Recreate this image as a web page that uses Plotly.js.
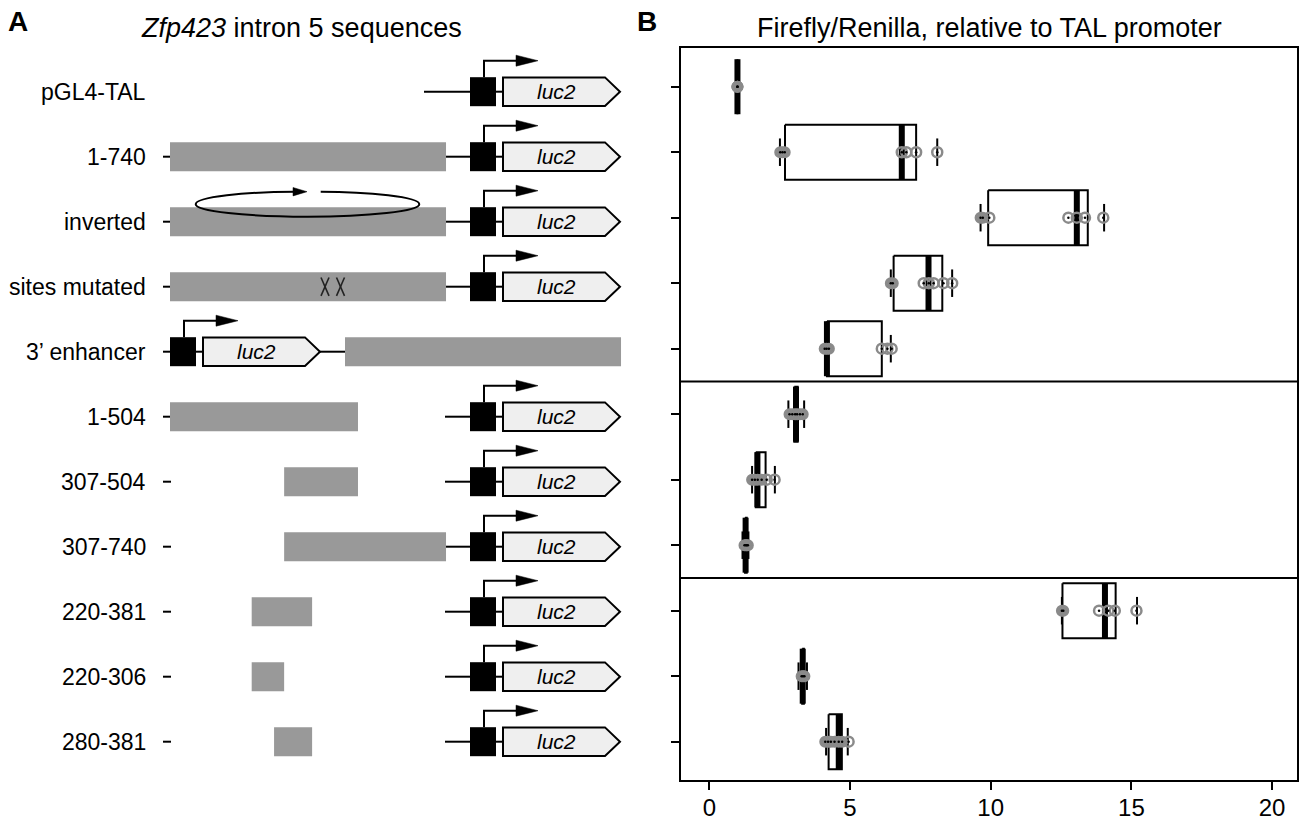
<!DOCTYPE html>
<html><head><meta charset="utf-8">
<script src="https://cdn.plot.ly/plotly-3.0.1.min.js"></script>
<style>body{margin:0;background:#fff}#chart{width:1303px;height:824px}</style>
</head><body><div id="chart"></div>
<script>
// ---------------- DATA ----------------
const constructs = ['pGL4-TAL','1-740','inverted','sites mutated','3\u2019 enhancer','1-504','307-504','307-740','220-381','220-306','280-381'];
const insertStart = [null,1,1,1,1,1,307,307,220,220,280];
const insertEnd   = [null,740,740,740,740,504,504,740,381,306,381];

// box summaries (Firefly/Renilla relative to TAL promoter)
const q1          = [1.00, 2.69, 9.91, 6.55, 4.18, 3.02, 1.65, 1.27, 12.55, 3.30, 4.24];
const median      = [1.00, 6.84, 13.06, 7.79, 4.18, 3.08, 1.71, 1.29, 14.06, 3.32, 4.60];
const q3          = [1.00, 7.35, 13.45, 8.28, 6.13, 3.14, 2.00, 1.33, 14.44, 3.36, 4.71];
const lowWhisker  = [1.00, 2.51, 9.64, 6.45, 4.15, 2.81, 1.52, 1.18, 12.53, 3.17, 4.15];
const highWhisker = [1.00, 8.10, 14.03, 8.63, 6.45, 3.37, 2.33, 1.39, 15.20, 3.47, 4.92];

// individual measurements
const pts_pGL4TAL     = [1.00, 1.00, 1.00];
const pts_1_740       = [2.52, 2.60, 2.68, 6.84, 7.00, 7.35, 8.10];
const pts_inverted    = [9.64, 9.72, 9.95, 12.76, 13.06, 13.35, 14.00];
const pts_sitesMut    = [6.45, 6.52, 7.62, 7.80, 7.97, 8.32, 8.63];
const pts_3enhancer   = [4.10, 4.17, 4.25, 6.13, 6.33, 6.48];
const pts_1_504       = [2.85, 2.95, 3.05, 3.12, 3.22, 3.32];
const pts_307_504     = [1.52, 1.62, 1.72, 1.86, 2.04, 2.32];
const pts_307_740     = [1.25, 1.30, 1.33, 1.37];
const pts_220_381     = [12.53, 12.58, 13.85, 14.18, 14.41, 15.18];
const pts_220_306     = [3.28, 3.33, 3.38];
const pts_280_381     = [4.12, 4.22, 4.32, 4.45, 4.60, 4.72, 4.95];
const pointsByRow = [pts_pGL4TAL, pts_1_740, pts_inverted, pts_sitesMut, pts_3enhancer, pts_1_504,
                     pts_307_504, pts_307_740, pts_220_381, pts_220_306, pts_280_381];
const xTicks = [0, 5, 10, 15, 20];

// ---------------- LAYOUT CONSTANTS ----------------
const W = 1303, H = 824;
const PLOT_TOP = 48, PLOT_BOTTOM = 780;
const FONT = 'Liberation Sans, Arial, Helvetica, sans-serif';
const GREY = '#8a8a8a';
const yDomain = [(H - PLOT_BOTTOM) / H, (H - PLOT_TOP) / H];
const yRange = [10.585, -0.591];
const BOX_H = 0.42, STAPLE_H = 0.21;

// diagram scale (pixel-like units)
const ORIGIN_PX = 170, PX_PER_BP = 0.373;
const DIAG_ROW0 = 91.7, DIAG_STEP = 65.0;
const y2Range = [10 + (PLOT_BOTTOM - (DIAG_ROW0 + 10 * DIAG_STEP)) / DIAG_STEP, -(DIAG_ROW0 - PLOT_TOP) / DIAG_STEP];
function X(px) { return (px - ORIGIN_PX) / PX_PER_BP; }
function Y(row, off) { return row + off / DIAG_STEP; }

// ---------------- TRACES (right panel) ----------------
const boxX = [], boxY = [], medX = [], medY = [], capX = [], capY = [];
const fX = [], fY = [], oX = [], oY = [], dX = [], dY = [];
constructs.forEach((c, i) => {
  boxX.push(q1[i], q3[i], q3[i], q1[i], q1[i], null);
  boxY.push(i - BOX_H, i - BOX_H, i + BOX_H, i + BOX_H, i - BOX_H, null);
  medX.push(median[i], median[i], null);
  medY.push(i - BOX_H, i + BOX_H, null);
  capX.push(lowWhisker[i], lowWhisker[i], null, highWhisker[i], highWhisker[i], null);
  capY.push(i - STAPLE_H, i + STAPLE_H, null, i - STAPLE_H, i + STAPLE_H, null);
  const p = pointsByRow[i];
  p.forEach((v, k) => {
    const crowded = p.some((w, j) => j !== k && Math.abs(w - v) < 0.15);
    if (crowded) { fX.push(v); fY.push(i); } else { oX.push(v); oY.push(i); }
    dX.push(v); dY.push(i);
  });
});
const traces = [
  {x: boxX, y: boxY, mode: 'lines', line: {color: '#000', width: 2}, hoverinfo: 'skip', xaxis: 'x', yaxis: 'y'},
  {x: capX, y: capY, mode: 'lines', line: {color: '#000', width: 2}, hoverinfo: 'skip', xaxis: 'x', yaxis: 'y'},
  {x: medX, y: medY, mode: 'lines', line: {color: '#000', width: 6}, hoverinfo: 'skip', xaxis: 'x', yaxis: 'y'},
  {x: fX, y: fY, mode: 'markers', marker: {symbol: 'circle', size: 10, color: GREY, line: {color: GREY, width: 2}}, hoverinfo: 'x', xaxis: 'x', yaxis: 'y'},
  {x: oX, y: oY, mode: 'markers', marker: {symbol: 'circle-open', size: 10, color: GREY, line: {color: GREY, width: 2.5}}, hoverinfo: 'x', xaxis: 'x', yaxis: 'y'},
  {x: dX, y: dY, mode: 'markers', marker: {symbol: 'circle', size: 2.5, color: '#000'}, hoverinfo: 'skip', xaxis: 'x', yaxis: 'y'}
];

// ---------------- SHAPES / ANNOTATIONS ----------------
const shapes = [], ann = [];
// group separators
[4.5, 7.5].forEach(yy => shapes.push({type: 'line', xref: 'x domain', yref: 'y', x0: 0, x1: 1, y0: yy, y1: yy, line: {color: '#000', width: 2}}));

function hline(row, px0, px1) {
  shapes.push({type: 'line', xref: 'x2', yref: 'y2', x0: X(px0), x1: X(px1), y0: Y(row, 0), y1: Y(row, 0), line: {color: '#000', width: 2}});
}
function poly(row, pts, close, fill, lw, col) {
  const d = pts.map((p, k) => (k ? 'L' : 'M') + X(p[0]).toFixed(3) + ',' + Y(row, p[1]).toFixed(4)).join(' ') + (close ? ' Z' : '');
  shapes.push({type: 'path', xref: 'x2', yref: 'y2', path: d, fillcolor: fill || 'rgba(0,0,0,0)', line: {color: col || '#000', width: lw}});
}
function cassette(row, b) {
  hline(row, b + 26, b + 33);
  poly(row, [[b + 14, -14.5], [b + 14, -31], [b + 47, -31]], false, null, 2);
  poly(row, [[b + 46, -36.5], [b + 68, -31], [b + 46, -25.5]], true, '#000', 0.5);
  shapes.push({type: 'rect', xref: 'x2', yref: 'y2', x0: X(b), x1: X(b + 26), y0: Y(row, -14.5), y1: Y(row, 14.5), fillcolor: '#000', line: {width: 0}});
  poly(row, [[b + 33, -14.3], [b + 135, -14.3], [b + 150, 0], [b + 135, 14.3], [b + 33, 14.3]], true, '#efefef', 2);
  ann.push({xref: 'x2', yref: 'y2', x: X(b + 86), y: Y(row, 0), text: '<i>luc2</i>', showarrow: false,
            font: {size: 21, family: FONT, color: '#000'}, xanchor: 'center', yanchor: 'middle'});
}
function insertBar(row, s, e, shiftPx) {
  const sh = X(shiftPx) - X(ORIGIN_PX);
  shapes.push({type: 'rect', xref: 'x2', yref: 'y2', x0: s - 1 + sh, x1: e + sh, y0: Y(row, -14.5), y1: Y(row, 14.5), fillcolor: '#999999', line: {width: 0}});
}

const STD_BOX = 470;
constructs.forEach((c, i) => {
  ann.push({xref: 'x2', yref: 'y2', x: X(148), y: Y(i, 0), text: c, showarrow: false,
            font: {size: 23, family: FONT, color: '#000'}, xanchor: 'right', yanchor: 'middle'});
  if (c === 'pGL4-TAL') {
    hline(i, 424, STD_BOX);
    cassette(i, STD_BOX);
  } else if (c.indexOf('enhancer') >= 0) {
    hline(i, 163, 170);
    cassette(i, 170);
    hline(i, 170 + 150, 170 + 175);
    insertBar(i, insertStart[i], insertEnd[i], 170 + 175);
  } else {
    hline(i, 163, 171);
    hline(i, 445, STD_BOX);
    insertBar(i, insertStart[i], insertEnd[i], ORIGIN_PX);
    cassette(i, STD_BOX);
  }
  if (c === 'inverted') {
    // loop arrow over the insert
    const cx = 307.5, cy = -17.5, rx = 111.8, ry = 12.5, k = 0.5523;
    const P = (px, py) => X(px).toFixed(3) + ',' + Y(i, py).toFixed(4);
    const top = cy - ry;
    const d = 'M' + P(320.7, top) +
      ' C' + P(cx + k * rx, top) + ' ' + P(cx + rx, cy - k * ry) + ' ' + P(cx + rx, cy) +
      ' C' + P(cx + rx, cy + k * ry) + ' ' + P(cx + k * rx, cy + ry) + ' ' + P(cx, cy + ry) +
      ' C' + P(cx - k * rx, cy + ry) + ' ' + P(cx - rx, cy + k * ry) + ' ' + P(cx - rx, cy) +
      ' C' + P(cx - rx, cy - k * ry) + ' ' + P(cx - k * rx, top) + ' ' + P(295, top);
    shapes.push({type: 'path', xref: 'x2', yref: 'y2', path: d, line: {color: '#000', width: 2}});
    poly(i, [[293, top - 4.2], [307, top], [293, top + 4.2]], true, '#000', 0.5);
  }
  if (c === 'sites mutated') {
    [325, 340.5].forEach(xc => {
      poly(i, [[xc - 4, -9.2], [xc + 4, 9.2]], false, null, 1.6, '#222');
      poly(i, [[xc + 4, -9.2], [xc - 4, 9.2]], false, null, 1.6, '#222');
    });
  }
});

// titles and panel letters
ann.push({xref: 'paper', yref: 'paper', x: 18 / W, y: 1 - 21 / H, text: '<b>A</b>', showarrow: false, font: {size: 28, family: FONT, color: '#000'}, xanchor: 'center', yanchor: 'middle'});
ann.push({xref: 'paper', yref: 'paper', x: 647 / W, y: 1 - 21 / H, text: '<b>B</b>', showarrow: false, font: {size: 28, family: FONT, color: '#000'}, xanchor: 'center', yanchor: 'middle'});
ann.push({xref: 'paper', yref: 'paper', x: 301 / W, y: 1 - 28 / H, text: '<i>Zfp423</i> intron 5 sequences', showarrow: false, font: {size: 27, family: FONT, color: '#000'}, xanchor: 'center', yanchor: 'middle'});
ann.push({xref: 'paper', yref: 'paper', x: 989 / W, y: 1 - 28 / H, text: 'Firefly/Renilla, relative to TAL promoter', showarrow: false, font: {size: 27, family: FONT, color: '#000'}, xanchor: 'center', yanchor: 'middle'});

const layout = {
  width: W, height: H, margin: {l: 0, r: 0, t: 0, b: 0},
  paper_bgcolor: '#ffffff', plot_bgcolor: 'rgba(0,0,0,0)', showlegend: false,
  font: {family: FONT, color: '#000'},
  xaxis: {domain: [681 / W, 1297 / W], range: [-1.006, 20.885], tickvals: xTicks, ticktext: xTicks.map(String),
          ticks: 'outside', ticklen: 8, tickwidth: 2, tickcolor: '#000', showline: true, mirror: true,
          linewidth: 2, linecolor: '#000', showgrid: false, zeroline: false, tickfont: {size: 24, family: FONT, color: '#000'},
          ticklabelstandoff: -3,
          anchor: 'y', automargin: false, fixedrange: true},
  yaxis: {domain: yDomain, range: yRange, tickvals: constructs.map((c, i) => i), showticklabels: false,
          ticks: 'outside', ticklen: 8, tickwidth: 2, tickcolor: '#000', showline: true, mirror: true,
          linewidth: 2, linecolor: '#000', showgrid: false, zeroline: false, anchor: 'x', automargin: false, fixedrange: true},
  xaxis2: {domain: [0, 650 / W], range: [X(0), X(650)], visible: false, anchor: 'y2', fixedrange: true},
  yaxis2: {domain: yDomain, range: y2Range, visible: false, anchor: 'x2', fixedrange: true},
  shapes: shapes, annotations: ann
};
Plotly.newPlot('chart', traces, layout, {displayModeBar: false, staticPlot: true});
</script>
</body></html>
